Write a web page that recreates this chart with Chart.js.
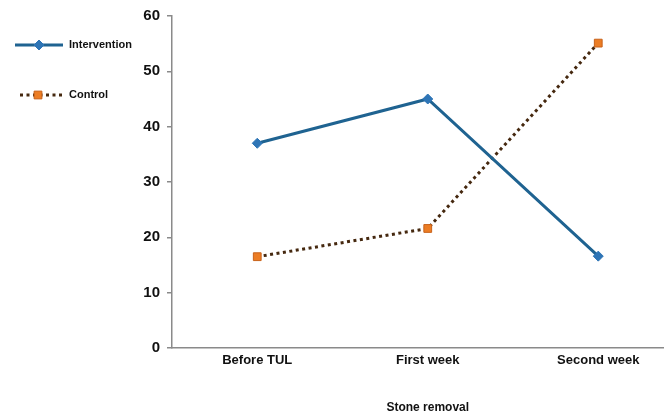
<!DOCTYPE html>
<html>
<head>
<meta charset="utf-8">
<script src="https://cdn.jsdelivr.net/npm/chart.js@4.4.1/dist/chart.umd.min.js"></script>
<style>
  html, body { margin: 0; padding: 0; background: #fff; }
  #wrap { width: 664px; height: 419px; overflow: hidden; position: relative; }
  #wrap canvas { position: absolute; left: 0; top: 0; }
</style>
</head>
<body>
<div id="wrap"><canvas id="stoneChart" width="690" height="419"></canvas></div>
<script>
// ===== DATA =====
const categories = ["Before TUL", "First week", "Second week"];
const interventionValues = [37, 45, 16.6];
const controlValues = [16.5, 21.6, 55.1];
const yTicks = [0, 10, 20, 30, 40, 50, 60];
const seriesNames = ["Intervention", "Control"];
const axisTitle = "Stone removal";

const FONT = "'Liberation Sans', Arial, sans-serif";
const AXIS_GREY = "#8a8a8a";

// legend drawn to the left of the y axis, like the original
const sideLegend = {
  id: "sideLegend",
  afterDraw(chart) {
    const ctx = chart.ctx;
    const rows = [
      { ds: chart.data.datasets[0], y: 45, x0: 15, x1: 63, mx: 39 },
      { ds: chart.data.datasets[1], y: 95, x0: 20, x1: 62, mx: 38 }
    ];
    ctx.save();
    rows.forEach(r => {
      ctx.beginPath();
      ctx.strokeStyle = r.ds.borderColor;
      ctx.lineWidth = r.ds.borderWidth;
      ctx.setLineDash(r.ds.borderDash || []);
      ctx.moveTo(r.x0, r.y);
      ctx.lineTo(r.x1, r.y);
      ctx.stroke();
      ctx.setLineDash([]);
      ctx.fillStyle = r.ds.pointBackgroundColor;
      ctx.strokeStyle = r.ds.pointBorderColor;
      ctx.lineWidth = r.ds.pointBorderWidth;
      Chart.helpers.drawPoint(ctx, {
        pointStyle: r.ds.pointStyle,
        radius: r.ds.pointRadius,
        borderWidth: r.ds.pointBorderWidth,
        rotation: 0
      }, r.mx, r.y);
      ctx.fillStyle = "#111";
      ctx.font = "bold 11px " + FONT;
      ctx.textBaseline = "middle";
      ctx.fillText(r.ds.label, 69, r.y);
    });
    ctx.restore();
  }
};

const chart = new Chart(document.getElementById("stoneChart"), {
  type: "line",
  data: {
    labels: categories,
    datasets: [
      {
        label: seriesNames[0],
        data: interventionValues,
        borderColor: "#1f6391",
        borderWidth: 3,
        pointStyle: "rectRot",
        pointRadius: 5,
        pointBackgroundColor: "#2e75b6",
        pointBorderColor: "#2e75b6",
        pointBorderWidth: 1,
        tension: 0
      },
      {
        label: seriesNames[1],
        data: controlValues,
        borderColor: "#45280f",
        borderWidth: 3,
        borderDash: [3, 3.5],
        pointStyle: "rect",
        pointRadius: 5.5,
        pointBackgroundColor: "#ec7d24",
        pointBorderColor: "#c8621a",
        pointBorderWidth: 1,
        tension: 0
      }
    ]
  },
  options: {
    responsive: false,
    animation: false,
    layout: { padding: { top: 15, right: 4, left: 0, bottom: 0 } },
    plugins: {
      legend: { display: false },
      tooltip: { enabled: false }
    },
    scales: {
      x: {
        offset: true,
        grid: { display: false, drawTicks: false },
        border: { display: true, color: AXIS_GREY, width: 1.5 },
        ticks: {
          color: "#111",
          padding: 5,
          font: { family: FONT, size: 13, weight: "bold" }
        },
        title: {
          display: true,
          text: axisTitle,
          color: "#111",
          padding: { top: 0, bottom: 4 },
          font: { family: FONT, size: 12, weight: "bold" }
        },
        afterFit(scale) { scale.height = 71; }
      },
      y: {
        min: yTicks[0],
        max: yTicks[yTicks.length - 1],
        afterBuildTicks(scale) { scale.ticks = yTicks.map(v => ({ value: v })); },
        grid: { drawOnChartArea: false, tickLength: 5, color: AXIS_GREY, lineWidth: 1.5 },
        border: { display: true, color: AXIS_GREY, width: 1.5 },
        ticks: {
          color: "#111",
          padding: 7,
          font: { family: FONT, size: 15, weight: "bold" }
        },
        afterFit(scale) { scale.width = 172; }
      }
    }
  },
  plugins: [sideLegend]
});
</script>
</body>
</html>
